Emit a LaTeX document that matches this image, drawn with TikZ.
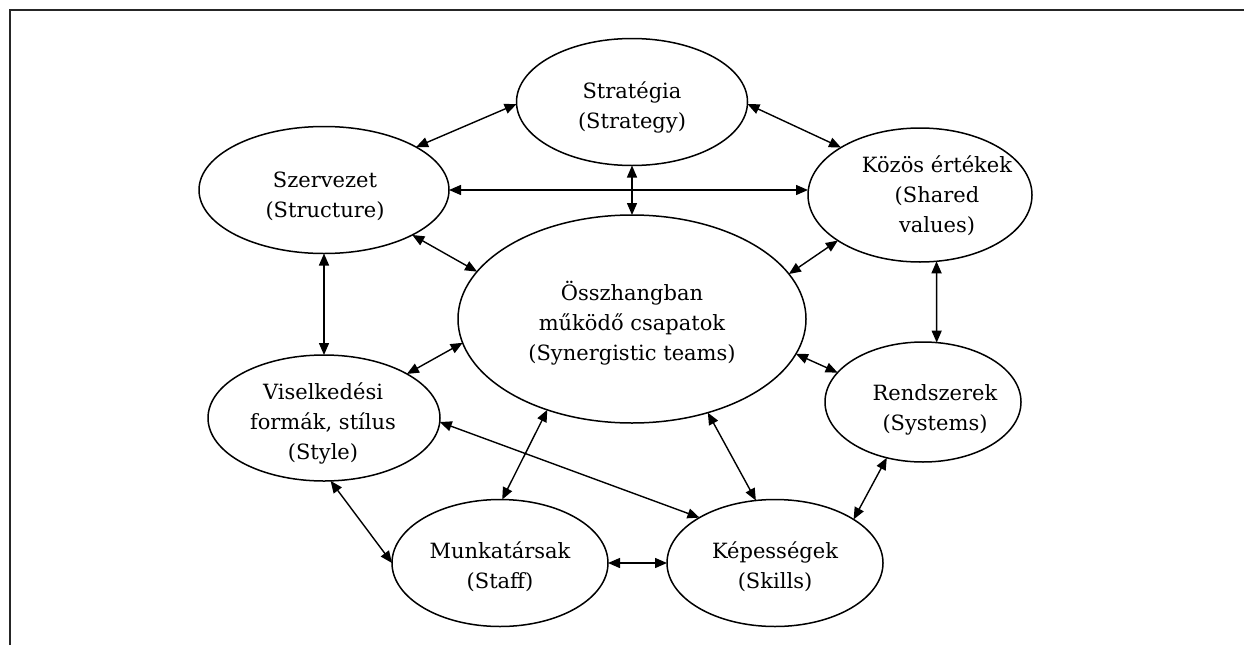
\documentclass[tikz,border=0pt]{standalone}
\usepackage{fontspec}
\setmainfont{DejaVu Serif}
\usetikzlibrary{shapes.geometric,arrows.meta}
\begin{document}
\begin{tikzpicture}[x=1pt,y=-1pt,
  oval/.style={draw,ellipse,line width=1.5pt,inner sep=0pt,outer sep=0pt},
  lbl/.style={align=center,font=\fontsize{21}{30}\selectfont,inner sep=0pt},
  link/.style={{Triangle[length=12pt,width=10pt]}-{Triangle[length=12pt,width=10pt]},line width=1.4pt},
  frame/.style={line width=1.8pt,draw=black!85}]
\useasboundingbox (0,0) rectangle (1244,645);
% page frame: top and left edges
\draw[frame] (10,645) -- (10,10) -- (1244,10);

% the seven elements around the centre
\node[oval,minimum width=231pt,minimum height=127pt] (st) at (632,102) {};
\node[oval,minimum width=250pt,minimum height=127pt] (sz) at (324,190) {};
\node[oval,minimum width=224pt,minimum height=134pt] (ko) at (920,195) {};
\node[oval,minimum width=348pt,minimum height=208pt] (ce) at (632,319) {};
\node[oval,minimum width=196pt,minimum height=120pt] (rs) at (923,402) {};
\node[oval,minimum width=232pt,minimum height=126pt] (vi) at (324,418) {};
\node[oval,minimum width=216pt,minimum height=127pt] (mu) at (500,563) {};
\node[oval,minimum width=216pt,minimum height=127pt] (ke) at (775,563) {};

% labels
\node[lbl] (st-t) at (632,107) {Stratégia\\(Strategy)};
\node[lbl] (sz-t) at (325,196) {Szervezet\\(Structure)};
\node[lbl] (ko-t) at (937,196) {Közös értékek\\(Shared\\values)};
\node[lbl] (ce-t) at (632,323) {Összhangban\\működő csapatok\\(Synergistic teams)};
\node[lbl] (rs-t) at (935,410) {Rendszerek\\(Systems)};
\node[lbl] (vi-t) at (323,423) {Viselkedési\\formák, stílus\\(Style)};
\node[lbl] (mu-t) at (500,567) {Munkatársak\\(Staff)};
\node[lbl] (ke-t) at (775,567) {Képességek\\(Skills)};

% two-way links
\draw[link] (sz.25.5) -- (st.181);
\draw[link] (st.359) -- (ko.149);
\draw[link] (st.270) -- (ce.90);
\draw[link] (sz.east) -- (sz.east -| ko.west);
\draw[link] (sz.-27.6) -- (ce.163.9);
\draw[link] (ko.209) -- (ce.16.5);
\draw[link] (sz.south) -- (vi.north);
\draw[link] (ko.-76.4) -- (rs.77.7);
\draw[link] (vi.28.2) -- (ce.188.6);
\draw[link] (ce.-12.9) -- (rs.161);
\draw[link] (vi.-2) -- (ke.149.6);
\draw[link] (ce.227.2) -- (mu.88);
\draw[link] (ce.-51.6) -- (ke.107.6);
\draw[link] (mu.east) -- (ke.west);
\draw[link] (vi.-84) -- (mu.west);
\draw[link] (rs.237) -- (ke.29);
\end{tikzpicture}
\end{document}
